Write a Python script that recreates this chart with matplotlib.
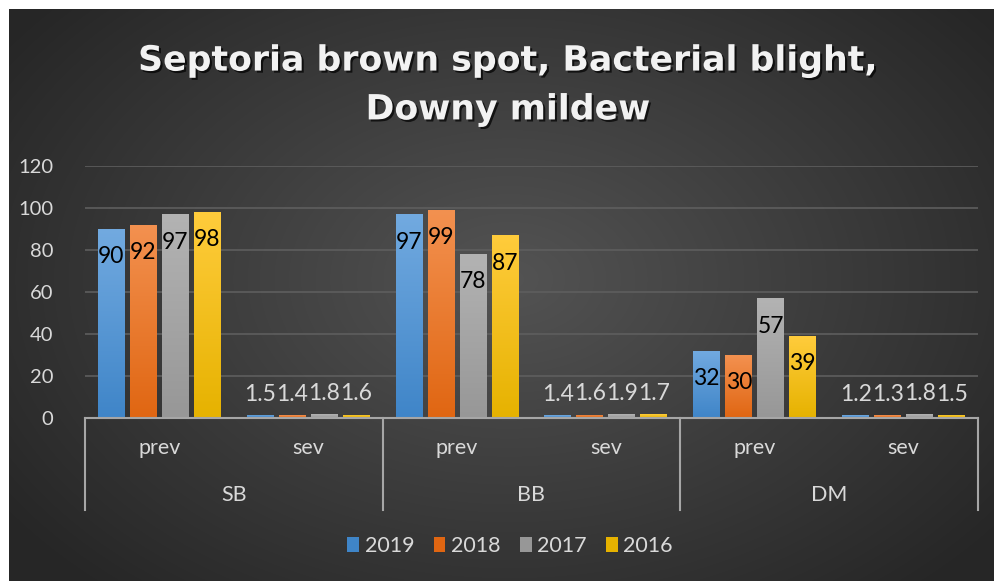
import numpy as np
import matplotlib
matplotlib.use('Agg')
import matplotlib.pyplot as plt
import matplotlib.patheffects as pe
from matplotlib.colors import LinearSegmentedColormap
from matplotlib.lines import Line2D
import matplotlib.transforms as mtransforms

plt.rcParams['font.family'] = ['Lato', 'DejaVu Sans']

groups = ['SB', 'BB', 'DM']
subcats = ['prev', 'sev']
years = ['2019', '2018', '2017', '2016']
v2019 = [90, 1.5, 97, 1.4, 32, 1.2]
v2018 = [92, 1.4, 99, 1.6, 30, 1.3]
v2017 = [97, 1.8, 78, 1.9, 57, 1.8]
v2016 = [98, 1.6, 87, 1.7, 39, 1.5]
series = [v2019, v2018, v2017, v2016]

# top / bottom colours of the excel gradient fill
tops = ['#72aae0', '#f39150', '#b3b3b3', '#ffcc3c']
bottoms = ['#3f85c8', '#e06612', '#979797', '#e6b200']
label_grey = '#d9d9d9'

W, H = 995, 581
fig = plt.figure(figsize=(W / 100, H / 100), dpi=100)
fig.patch.set_facecolor('white')

# dark radial background
bg = fig.add_axes([9 / W, 0, 1 - 9 / W, 1 - 9 / H])
bg.set_axis_off()
yy, xx = np.mgrid[0:572, 0:986]
r = np.sqrt(((xx - 500) / 620.0) ** 2 + ((yy - 270) / 420.0) ** 2)
r = np.clip(r, 0, 1)
bgcmap = LinearSegmentedColormap.from_list('bg', ['#535353', '#262626'])
bg.imshow(r, cmap=bgcmap, aspect='auto', vmin=0, vmax=1)

ax = fig.add_axes([85 / W, 163 / H, 893 / W, 252 / H])
ax.patch.set_alpha(0)
ax.set_xlim(-0.5, 5.5)
ax.set_ylim(0, 120)
ax.set_yticks(range(0, 121, 20))
ax.yaxis.grid(True, color='#5e5e5e', linewidth=1.2)
ax.set_axisbelow(True)
for s in ax.spines.values():
    s.set_visible(False)
ax.tick_params(axis='y', length=0, pad=23, labelsize=14.5, labelcolor=label_grey)
ax.tick_params(axis='x', length=0)
ax.set_xticks([])

x = np.arange(6)
width = 0.181
step = 0.215
grad = np.linspace(1, 0, 256).reshape(-1, 1)
for i, vals in enumerate(series):
    pos = x + (i - 1.5) * step
    bars = ax.bar(pos, vals, width, color=bottoms[i], label=years[i], zorder=2)
    cm = LinearSegmentedColormap.from_list('g%d' % i, [bottoms[i], tops[i]])
    for b, v in zip(bars, vals):
        im = ax.imshow(grad, cmap=cm, aspect='auto', zorder=2.5,
                       extent=[b.get_x(), b.get_x() + b.get_width(), 0, v])
        im.set_clip_path(b)
        if v > 10:
            ax.annotate('%g' % v, (b.get_x() + b.get_width() / 2, v),
                        xytext=(0, -20), textcoords='offset points',
                        ha='center', va='center', fontsize=16.5, color='black', zorder=3)
        else:
            ax.annotate('%g' % v, (b.get_x() + b.get_width() / 2, v),
                        xytext=(0, 15), textcoords='offset points',
                        ha='center', va='center', fontsize=16.5, color=label_grey, zorder=3)
ax.set_xlim(-0.5, 5.5)
ax.set_ylim(0, 120)

# multi-level category axis
trans = mtransforms.blended_transform_factory(ax.transData, ax.transAxes)
axc = '#a6a6a6'
ax.add_line(Line2D([-0.5, 5.5], [0, 0], transform=trans, color=axc, lw=1.5, clip_on=False, zorder=4))
bottom = -92 / 252
for xb in [-0.5, 1.5, 3.5, 5.5]:
    ax.add_line(Line2D([xb, xb], [0, bottom], transform=trans, color=axc, lw=1.5, clip_on=False))
for k in range(6):
    ax.text(k, -30 / 252, subcats[k % 2], transform=trans, ha='center', va='center',
            fontsize=15.5, color=label_grey)
for g in range(3):
    ax.text(2 * g + 0.5, -77 / 252, groups[g], transform=trans, ha='center', va='center',
            fontsize=15.5, color=label_grey)

leg = fig.legend(loc='center', bbox_to_anchor=(510 / W, 1 - 546 / H), ncol=4, frameon=False,
                 fontsize=15.5, labelcolor=label_grey, handlelength=0.55, handleheight=0.75,
                 handletextpad=0.25, columnspacing=0.9)

fig.text(508 / W, 1 - 85 / H, 'Septoria brown spot, Bacterial blight,\nDowny mildew',
         ha='center', va='center', fontsize=25, fontweight='bold', color='#f2f2f2',
         family='DejaVu Sans', linespacing=1.55,
         path_effects=[pe.withSimplePatchShadow(offset=(1.5, -1.5), shadow_rgbFace='black', alpha=0.7)])

fig.savefig('out.png', dpi=100, facecolor=fig.get_facecolor())
